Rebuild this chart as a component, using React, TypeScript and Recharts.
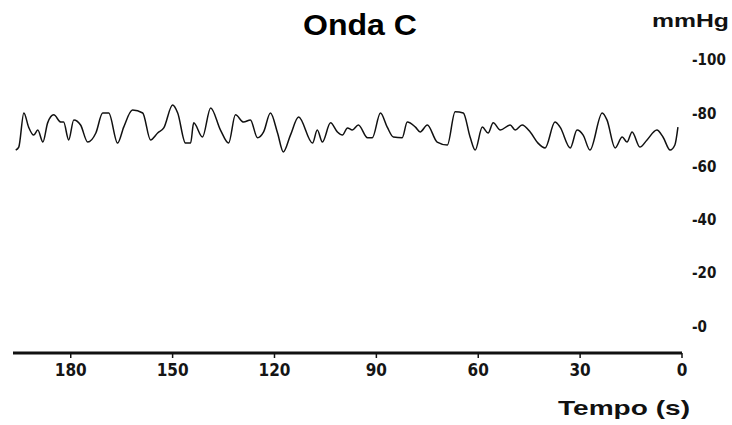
import React from 'react';
import { LineChart, Line, XAxis, YAxis } from 'recharts';

// time before the end of the recording (s)
const timeSec = [
  196.2, 195.3, 193.8, 192.4, 190.9, 189.7, 188.2, 186.8, 185.0, 182.9,
  182.1, 180.6, 179.1, 177.1, 175.0, 172.6, 170.6, 168.8, 166.2, 164.4,
  161.8, 158.8, 156.5, 154.4, 152.6, 150.0, 148.5, 146.2, 144.7, 143.8,
  141.2, 138.8, 135.9, 133.5, 131.5, 129.1, 127.1, 125.0, 123.2, 121.2,
  119.1, 117.4, 115.3, 112.9, 108.8, 107.4, 105.9, 103.5, 101.5, 100.0,
  98.5, 97.1, 95.3, 92.6, 91.2, 88.8, 86.8, 85.0, 82.4, 80.9,
  78.5, 77.1, 75.0, 72.1, 69.1, 66.8, 64.4, 62.4, 60.9, 58.8,
  57.1, 55.6, 53.5, 50.6, 49.1, 47.1, 44.7, 42.4, 40.3, 37.4,
  35.9, 32.9, 30.9, 29.1, 27.1, 23.5, 22.1, 19.7, 17.6, 16.2,
  14.7, 12.4, 10.3, 7.4, 5.6, 3.5, 2.1, 1.2,
];

// intracranial pressure (mmHg)
const pressureMmHg = [
  66.2, 67.3, 80.1, 74.8, 71.8, 73.7, 69.2, 76.4, 79.4, 76.7,
  76.7, 70.0, 77.5, 75.6, 69.2, 72.6, 80.1, 80.1, 68.8, 74.8,
  81.2, 80.1, 70.0, 72.6, 74.5, 83.1, 80.1, 68.8, 68.8, 76.4,
  71.1, 82.0, 73.7, 68.8, 79.4, 76.7, 77.5, 70.8, 73.0, 80.1,
  72.6, 65.5, 71.8, 78.6, 68.8, 73.7, 69.2, 76.4, 73.0, 71.8,
  74.5, 73.7, 75.6, 70.8, 70.8, 80.1, 74.8, 71.1, 70.8, 76.7,
  74.8, 73.0, 75.6, 69.2, 68.1, 80.6, 80.1, 71.1, 66.2, 74.8,
  72.6, 76.4, 73.7, 75.6, 73.7, 75.6, 73.0, 68.8, 67.0, 76.7,
  74.8, 67.0, 73.7, 71.8, 66.2, 80.1, 77.5, 67.0, 71.1, 69.2,
  73.0, 67.3, 70.0, 73.7, 71.1, 66.2, 68.1, 74.8,
];

const xTicks = [180, 150, 120, 90, 60, 30, 0];
const yTicks = [0, 20, 40, 60, 80, 100];

const data = timeSec.map((t, i) => ({ t, p: pressureMmHg[i] }));

const tickFont = '"DejaVu Sans Condensed", "Liberation Sans Narrow", Arial, sans-serif';
const labelFont = '"Liberation Sans", Arial, sans-serif';

const App: React.FC = () => {
  return (
    <div style={{ position: 'absolute', left: 0, top: 0, width: 732, height: 425, background: '#fff' }}>
      <LineChart width={732} height={425} data={data} margin={{ top: 60, right: 0, bottom: 42, left: 13 }}>
        <XAxis
          dataKey="t"
          type="number"
          domain={[0, 197]}
          reversed
          ticks={xTicks}
          height={30}
          axisLine={{ stroke: '#111', strokeWidth: 3 }}
          tickLine={{ stroke: '#111', strokeWidth: 1.5 }}
          tickSize={5}
          tickMargin={6}
          tick={{ fill: '#151515', fontSize: 17, fontWeight: 'bold', fontFamily: tickFont }}
        />
        <YAxis
          orientation="right"
          type="number"
          domain={[-10, 100]}
          ticks={yTicks}
          width={50}
          axisLine={false}
          tickLine={false}
          tickMargin={4}
          tickFormatter={(v) => `-${v}`}
          tick={{ fill: '#151515', fontSize: 15, fontWeight: 'bold', fontFamily: tickFont, textAnchor: 'start' }}
        />
        <Line type="monotone" dataKey="p" stroke="#111" strokeWidth={1.5} dot={false} isAnimationActive={false} />
      </LineChart>
      <svg width={732} height={425} style={{ position: 'absolute', left: 0, top: 0, pointerEvents: 'none' }}>
        <text x={303} y={35} fontFamily={labelFont} fontWeight="bold" fontSize={29} textLength={114} lengthAdjust="spacingAndGlyphs" fill="#000">
          Onda C
        </text>
        <text x={652} y={27} fontFamily={labelFont} fontWeight="bold" fontSize={18} textLength={77} lengthAdjust="spacingAndGlyphs" fill="#111">
          mmHg
        </text>
        <text x={558} y={415} fontFamily={labelFont} fontWeight="bold" fontSize={21} textLength={132} lengthAdjust="spacingAndGlyphs" fill="#111">
          Tempo (s)
        </text>
      </svg>
    </div>
  );
};

export default App;
